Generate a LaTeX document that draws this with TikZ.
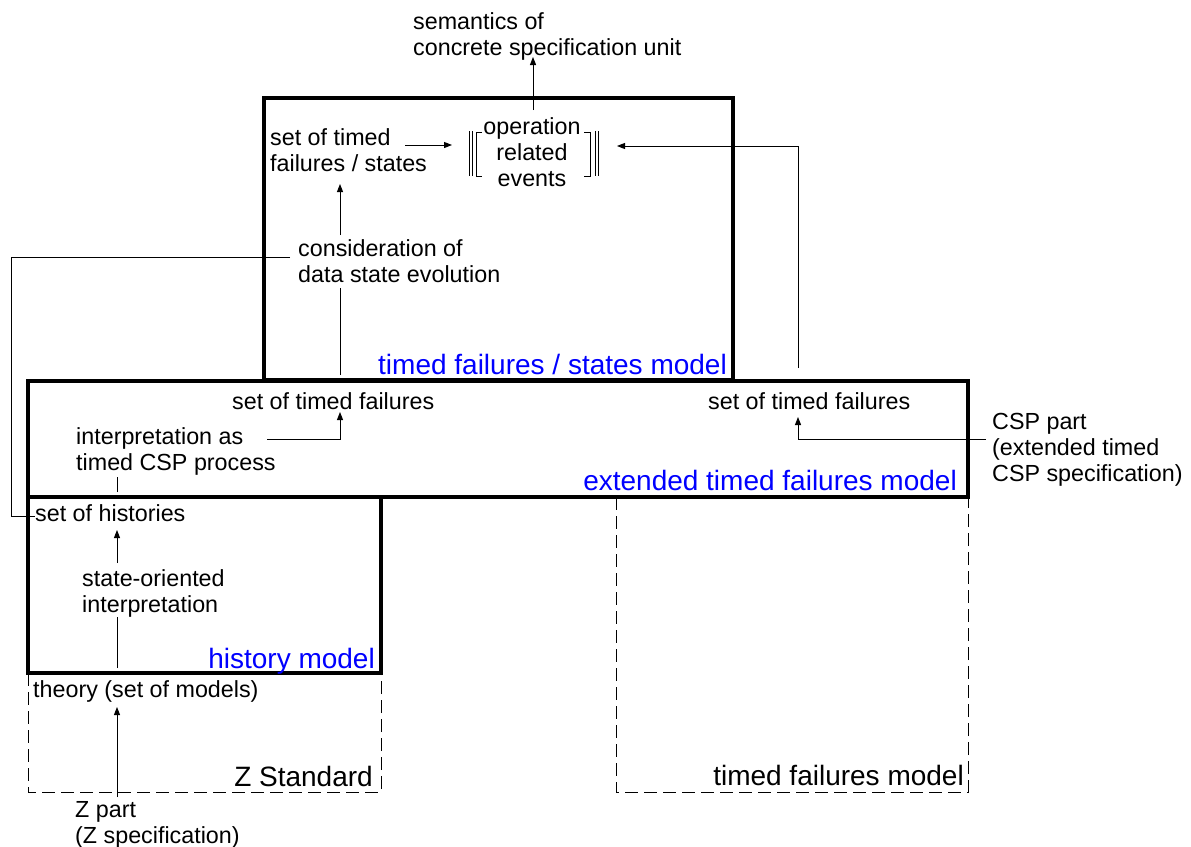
\documentclass[tikz,border=0pt]{standalone}
\usepackage{fontspec}
\setmainfont{Liberation Sans}
\usetikzlibrary{arrows.meta,calc}
\definecolor{lblue}{RGB}{0,0,255}
\newcommand{\tl}[1]{\begin{tabular}[t]{@{}l@{}}#1\end{tabular}}
\newcommand{\tc}[1]{\begin{tabular}[t]{@{}c@{}}#1\end{tabular}}
\begin{document}
\begin{tikzpicture}[x=1pt,y=-1pt,
  txt/.style={inner sep=0pt, anchor=base west, font=\fontsize{23.3}{26}\selectfont},
  lbl/.style={inner sep=0pt, anchor=base east, font=\fontsize{28}{30}\selectfont},
  modelbox/.style={line width=3.2pt},
  dashbox/.style={line width=1pt, dash pattern=on 13pt off 6pt},
  conn/.style={line width=1pt},
  arr/.style={conn,-{Triangle[length=8pt,width=6pt]}},
  brk/.style={line width=1pt}]
\useasboundingbox (0,0) rectangle (1191,846);
\fill[white] (0,0) rectangle (1191,846);

% dashed model boxes
\draw[dashbox] (28,673) rectangle (381,792);
\draw[dashbox] (616,497) rectangle (968,792);
% solid model boxes
\draw[modelbox] (264,98) rectangle (733,380);
\draw[modelbox] (28,381) rectangle (968,497);
\draw[modelbox] (28,497) rectangle (381,673);

% texts
\node[txt] (sem) at (413,29) {\tl{semantics of\\concrete specification unit}};
\node[txt] (sotfs) at (270,145) {\tl{set of timed\\failures / states}};
\node[txt, anchor=base] (ore) at (532,134) {\tc{operation\\related\\events}};
\node[txt] (cons) at (298,256) {\tl{consideration of\\data state evolution}};
\node[lbl, text=lblue] (tfsl) at (727,374) {timed failures / states model};
\node[txt] (stf1) at (232,409) {set of timed failures};
\node[txt] (stf2) at (708,409) {set of timed failures};
\node[txt] (interp) at (76,444) {\tl{interpretation as\\timed CSP process}};
\node[txt] (csp) at (992,429) {\tl{CSP part\\(extended timed\\CSP specification)}};
\node[lbl, text=lblue] (extl) at (957,490) {extended timed failures model};
\node[txt] (hist) at (35,521) {set of histories};
\node[txt] (soi) at (82,586) {\tl{state-oriented\\interpretation}};
\node[lbl, text=lblue] (histl) at (375,668) {history model};
\node[txt] (theory) at (33,697) {theory (set of models)};
\node[lbl] (zstd) at (373,786) {Z Standard};
\node[lbl] (tfm) at (964,785) {timed failures model};
\node[txt] (zpart) at (75,817) {\tl{Z part\\(Z specification)}};

% semantic brackets around operation related events
\draw[brk] (469,131) -- (469,176) (472,131) -- (472,176);
\draw[brk] (482,132) -- (476,132) -- (476,176) -- (482,176);
\draw[brk] (584,132) -- (590,132) -- (590,176) -- (584,176);
\draw[brk] (595,131) -- (595,176) (598,131) -- (598,176);

% connector end points
\coordinate (ore-n) at (533,110);
\coordinate (sem-s) at (533,57);
\coordinate (sotfs-e) at (405,145);
\coordinate (ore-w) at (452,145);
\coordinate (ore-e) at (617,146);
\coordinate (stf2-n) at (798,368);
\coordinate (cons-n) at (340,235);
\coordinate (sotfs-s) at (340,184);
\coordinate (cons-s) at (340,288);
\coordinate (stf1-n) at (340,375);
\coordinate (cons-w) at (290,257);
\coordinate (hist-w) at (35,516);
\coordinate (interp-e) at (267,439);
\coordinate (stf1-s) at (340,412);
\coordinate (interp-s) at (117,477);
\coordinate (hist-n) at (117,492);
\coordinate (csp-w) at (986,439);
\coordinate (stf2-s) at (798,417);
\coordinate (soi-n) at (117,563);
\coordinate (hist-s) at (117,530);
\coordinate (soi-s) at (117,617);
\coordinate (theory-n0) at (117,668);
\coordinate (zpart-n) at (117,797);
\coordinate (theory-s) at (117,707);

% connectors
\draw[arr] (ore-n) -- (sem-s);
\draw[arr] (sotfs-e) -- (ore-w);
\draw[arr] (stf2-n) |- (ore-e);
\draw[arr] (cons-n) -- (sotfs-s);
\draw[conn] (stf1-n) -- (cons-s);
\draw[conn] (cons-w) -- (11,257) -- (11,516) -- (hist-w);
\draw[arr] (interp-e) -| (stf1-s);
\draw[conn] (hist-n) -- (interp-s);
\draw[arr] (csp-w) -| (stf2-s);
\draw[arr] (soi-n) -- (hist-s);
\draw[conn] (theory-n0) -- (soi-s);
\draw[arr] (zpart-n) -- (theory-s);
\end{tikzpicture}
\end{document}
